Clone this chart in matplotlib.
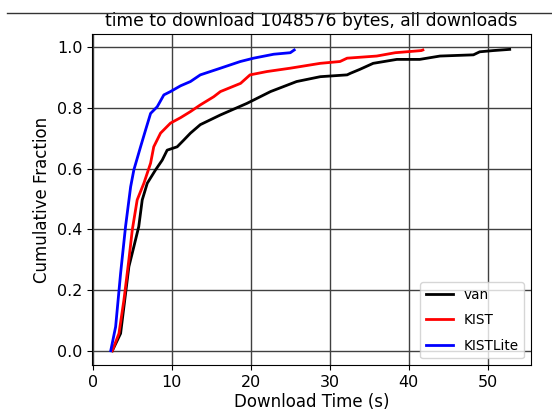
import numpy as np
import matplotlib
matplotlib.use("Agg")
import matplotlib.pyplot as plt
from matplotlib.lines import Line2D

# CDF points (download time in s, cumulative fraction)
van_t = [2.45, 3.5, 3.92, 4.55, 5.18, 5.8, 6.24, 6.88, 7.93, 8.77, 9.4, 10.67, 11.5,
         12.35, 13.6, 16.15, 19.5, 22.5, 25.8, 28.8, 32.2, 32.6, 33.8, 35.5, 38.5,
         41.4, 43.96, 48.2, 49.0, 50.7, 52.8]
van_f = [0.0, 0.057, 0.145, 0.277, 0.343, 0.409, 0.497, 0.552, 0.596, 0.628, 0.661,
         0.672, 0.694, 0.717, 0.745, 0.777, 0.815, 0.854, 0.887, 0.903, 0.909, 0.914,
         0.927, 0.947, 0.960, 0.960, 0.971, 0.975, 0.985, 0.989, 0.993]

kist_t = [2.45, 3.29, 3.92, 4.55, 4.98, 5.6, 6.45, 7.3, 7.7, 8.56, 9.82, 11.1, 12.35,
          13.6, 15.3, 16.15, 18.7, 19.9, 22.05, 25.0, 28.8, 31.3, 32.2, 35.95, 38.3,
          41.6, 41.8]
kist_f = [0.0, 0.057, 0.167, 0.3, 0.398, 0.497, 0.552, 0.618, 0.672, 0.717, 0.75,
          0.768, 0.788, 0.81, 0.837, 0.854, 0.881, 0.909, 0.92, 0.931, 0.947, 0.953,
          0.964, 0.971, 0.982, 0.989, 0.991]

lite_t = [2.25, 2.87, 3.5, 4.13, 4.77, 5.18, 6.03, 6.66, 7.3, 8.14, 8.98, 9.82, 11.1,
          12.35, 13.6, 16.15, 18.67, 20.35, 22.9, 25.0, 25.5]
lite_f = [0.0, 0.079, 0.255, 0.41, 0.54, 0.596, 0.672, 0.727, 0.782, 0.804, 0.843,
          0.854, 0.873, 0.887, 0.909, 0.931, 0.953, 0.964, 0.977, 0.982, 0.991]

fig = plt.figure(figsize=(5.52, 4.12), dpi=100)
ax = fig.add_axes([0.167, 0.114, 0.795, 0.803])

ax.plot(van_t, van_f, color="black", lw=2, label="van")
ax.plot(kist_t, kist_f, color="red", lw=2, label="KIST")
ax.plot(lite_t, lite_f, color="blue", lw=2, label="KISTLite")

ax.set_xlim(-0.1, 55.5)
ax.set_ylim(-0.047, 1.043)
ax.set_xticks([0, 10, 20, 30, 40, 50])
ax.set_yticks([0.0, 0.2, 0.4, 0.6, 0.8, 1.0])
ax.grid(True, color="0.25", lw=1)
ax.tick_params(labelsize=11.5)

ax.set_title("time to download 1048576 bytes, all downloads", fontsize=12.3)
ax.set_xlabel("Download Time (s)", fontsize=12, labelpad=2)
ax.set_ylabel("Cumulative Fraction", fontsize=12)
ax.legend(loc="lower right", fontsize=9.8, labelspacing=0.85)

# separator line across the top of the screenshot
fig.add_artist(Line2D([0.013, 1.0], [0.968, 0.968], color="0.2", lw=1))

fig.savefig("out.png", dpi=100)
